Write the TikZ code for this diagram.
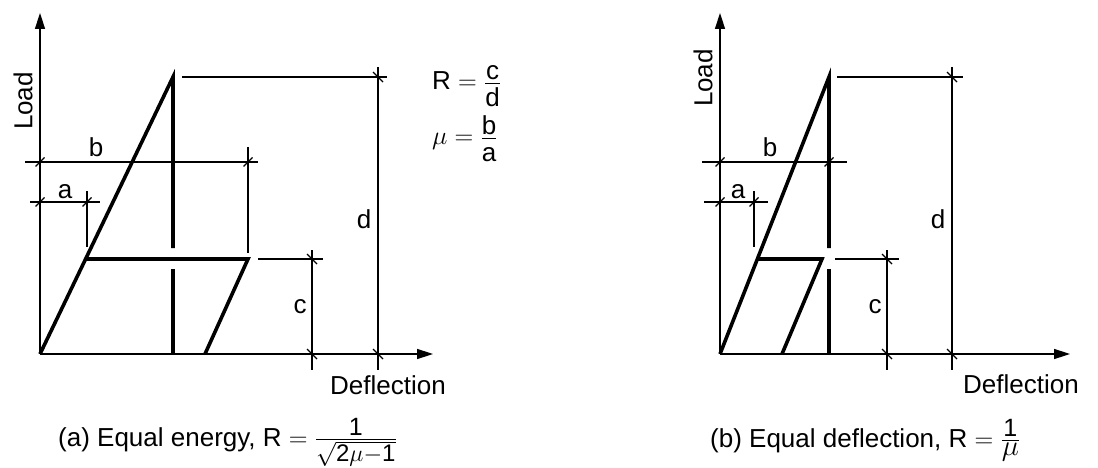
\documentclass[tikz,border=0pt]{standalone}
\usepackage{fix-cm}
\usepackage{amsmath}
\usepackage{fontspec}
\setmainfont{Liberation Sans}
\usetikzlibrary{arrows.meta}
\newcommand\fsz[1]{\hbox{\fontsize{25}{25}\selectfont #1}}
\newcommand\fr[2]{\genfrac{}{}{1.1pt}{1}{\hbox{#1}}{\hbox{\rule{0pt}{21pt}#2}}}
\begin{document}
\begin{tikzpicture}[x=1pt,y=-1pt,
  thinln/.style={line width=1.3pt},
  thickln/.style={line width=3.6pt},
  axisln/.style={line width=1.5pt,-{Triangle[length=16pt,width=10pt]}},
  lbl/.style={font=\fontsize{26}{30}\selectfont, inner sep=0pt},
  htick/.style={line width=1.1pt},
]
\useasboundingbox (0,0) rectangle (1098,468);

% ================= panel (a) =================
\coordinate (aO) at (40,354);
\coordinate (aYt) at (40,13);
\coordinate (aXt) at (433,354);
\coordinate (aP) at (173,77);
\coordinate (aY1) at (86,259);
\coordinate (aY2) at (248,259);
\coordinate (aU) at (205,354);
\coordinate (aV1) at (173,248);
\coordinate (aV2) at (173,269);
\coordinate (aV3) at (173,354);

\draw[axisln] (aO) -- (aYt);
\draw[axisln] (aO) -- (aXt);
\draw[thickln, line join=miter] (aO) -- (aP) -- (aV1);
\draw[thickln] (aV2) -- (aV3);
\draw[thickln, line join=miter] (aY1) -- (aY2) -- (aU);

% b dimension
\coordinate (abL) at (25,162); \coordinate (abR) at (258,162);
\coordinate (abT1) at (40,162); \coordinate (abT2) at (248,162);
\coordinate (abE1) at (248,147); \coordinate (abE2) at (248,253);
\draw[thinln] (abL) -- (abR);
\draw[thinln] (abE1) -- (abE2);
\draw[htick] (abT1) ++(-4.5,4.5) -- ++(9,-9);
\draw[htick] (abT2) ++(-4.5,4.5) -- ++(9,-9);
\node[lbl, anchor=base] (ab) at (96,157) {b};

% a dimension
\coordinate (aaL) at (30,202); \coordinate (aaR) at (100,202);
\coordinate (aaT1) at (40,202); \coordinate (aaT2) at (87,202);
\coordinate (aaE1) at (87,191); \coordinate (aaE2) at (87,247);
\draw[thinln] (aaL) -- (aaR);
\draw[thinln] (aaE1) -- (aaE2);
\draw[htick] (aaT1) ++(-4.5,4.5) -- ++(9,-9);
\draw[htick] (aaT2) ++(-4.5,4.5) -- ++(9,-9);
\node[lbl, anchor=base] (aa) at (65,198) {a};

% d dimension
\coordinate (adH1) at (182,77); \coordinate (adH2) at (387,77);
\coordinate (adV1) at (378,67); \coordinate (adV2) at (378,370);
\coordinate (adT1) at (378,77); \coordinate (adT2) at (378,354);
\draw[thinln] (adH1) -- (adH2);
\draw[thinln] (adV1) -- (adV2);
\draw[htick] (adT1) ++(-5,-5) -- ++(10,10);
\draw[htick] (adT2) ++(-5,-5) -- ++(10,10);
\node[lbl, anchor=base] (ad) at (364,228) {d};

% c dimension
\coordinate (acH1) at (258,259); \coordinate (acH2) at (323,259);
\coordinate (acV1) at (312,250); \coordinate (acV2) at (312,370);
\coordinate (acT1) at (312,259); \coordinate (acT2) at (312,354);
\draw[thinln] (acH1) -- (acH2);
\draw[thinln] (acV1) -- (acV2);
\draw[htick] (acT1) ++(-5,-5) -- ++(10,10);
\draw[htick] (acT2) ++(-5,-5) -- ++(10,10);
\node[lbl, anchor=base] (ac) at (300,313) {c};

\node[lbl, rotate=90] (aload) at (23,101) {Load};
\node[lbl, anchor=base west] (adefl) at (330,394) {Deflection};

\node[lbl, anchor=base west] (aR) at (432,90) {R $=\fr{c}{d}$};
\node[lbl, anchor=base west] (amu) at (432,145) {$\mu=\fr{b}{a}$};

\node[lbl, anchor=base west] (acap) at (58,446)
  {(a) Equal energy, R $=\genfrac{}{}{1.1pt}{1}{\fsz{1}}{\hbox{\fontsize{24}{24}\selectfont$\sqrt{\hbox{2}\mu{-}\hbox{1}}$}}$};

% ================= panel (b) =================
\coordinate (bO) at (720,354);
\coordinate (bYt) at (720,13);
\coordinate (bXt) at (1070,354);
\coordinate (bP) at (829,77);
\coordinate (bY1) at (757,259);
\coordinate (bY2) at (822,259);
\coordinate (bU) at (782,354);
\coordinate (bV1) at (829,248);
\coordinate (bV2) at (829,269);
\coordinate (bV3) at (829,354);

\draw[axisln] (bO) -- (bYt);
\draw[axisln] (bO) -- (bXt);
\draw[thickln, line join=miter] (bO) -- (bP) -- (bV1);
\draw[thickln] (bV2) -- (bV3);
\draw[thickln, line join=miter] (bY1) -- (bY2) -- (bU);

% b dimension
\coordinate (bbL) at (702,162); \coordinate (bbR) at (847,162);
\coordinate (bbT1) at (720,162); \coordinate (bbT2) at (829,162);
\draw[thinln] (bbL) -- (bbR);
\draw[htick] (bbT1) ++(-4.5,4.5) -- ++(9,-9);
\draw[htick] (bbT2) ++(-4.5,4.5) -- ++(9,-9);
\node[lbl, anchor=base] (bb) at (770,157) {b};

% a dimension
\coordinate (baL) at (704,202); \coordinate (baR) at (768,202);
\coordinate (baT1) at (720,202); \coordinate (baT2) at (754,202);
\coordinate (baE1) at (754,191); \coordinate (baE2) at (754,247);
\draw[thinln] (baL) -- (baR);
\draw[thinln] (baE1) -- (baE2);
\draw[htick] (baT1) ++(-4.5,4.5) -- ++(9,-9);
\draw[htick] (baT2) ++(-4.5,4.5) -- ++(9,-9);
\node[lbl, anchor=base] (ba) at (738,198) {a};

% d dimension
\coordinate (bdH1) at (837,77); \coordinate (bdH2) at (963,77);
\coordinate (bdV1) at (952,67); \coordinate (bdV2) at (952,370);
\coordinate (bdT1) at (952,77); \coordinate (bdT2) at (952,354);
\draw[thinln] (bdH1) -- (bdH2);
\draw[thinln] (bdV1) -- (bdV2);
\draw[htick] (bdT1) ++(-5,-5) -- ++(10,10);
\draw[htick] (bdT2) ++(-5,-5) -- ++(10,10);
\node[lbl, anchor=base] (bd) at (938,228) {d};

% c dimension
\coordinate (bcH1) at (835,259); \coordinate (bcH2) at (899,259);
\coordinate (bcV1) at (887,250); \coordinate (bcV2) at (887,370);
\coordinate (bcT1) at (887,259); \coordinate (bcT2) at (887,354);
\draw[thinln] (bcH1) -- (bcH2);
\draw[thinln] (bcV1) -- (bcV2);
\draw[htick] (bcT1) ++(-5,-5) -- ++(10,10);
\draw[htick] (bcT2) ++(-5,-5) -- ++(10,10);
\node[lbl, anchor=base] (bc) at (875,313) {c};

\node[lbl, rotate=90] (bload) at (703,78) {Load};
\node[lbl, anchor=base west] (bdefl) at (963,393) {Deflection};

\node[lbl, anchor=base west] (bcap) at (710,447)
  {(b) Equal deflection, R $=\genfrac{}{}{1.1pt}{1}{\fsz{1}}{\hbox{\fontsize{29}{29}\selectfont$\mu$}}$};
\end{tikzpicture}
\end{document}
